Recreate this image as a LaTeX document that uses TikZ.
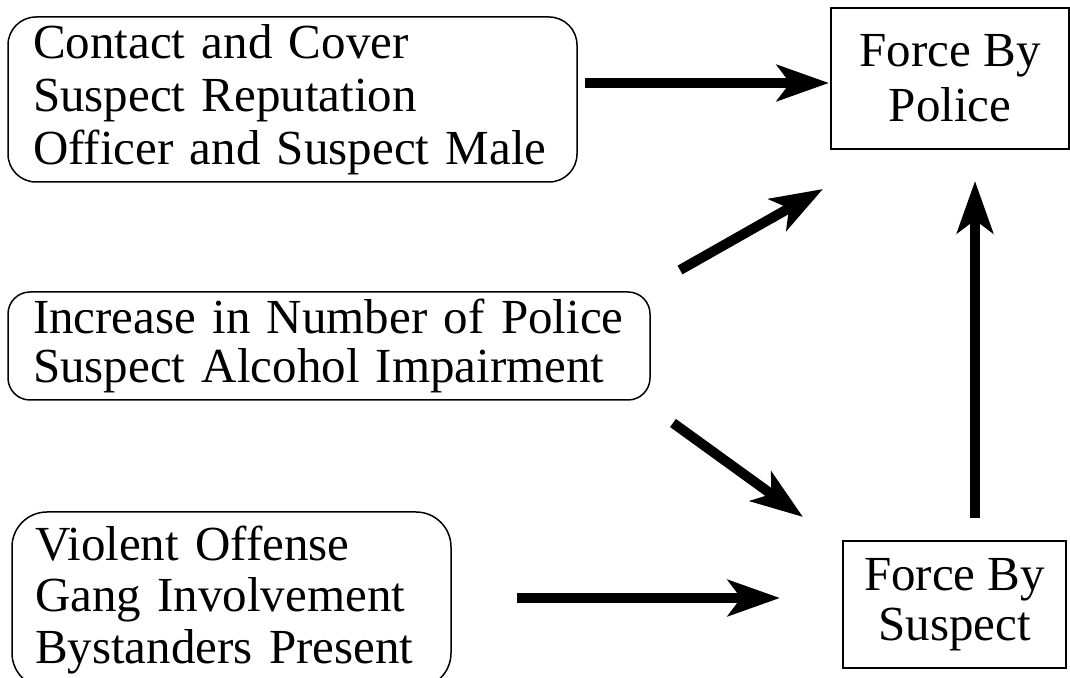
\documentclass[tikz,border=0pt]{standalone}
\usepackage{fontspec}
\setmainfont{Liberation Serif}
\usetikzlibrary{arrows.meta}
\begin{document}
\begin{tikzpicture}[x=1pt,y=1pt,
  rbox/.style={draw, line width=1.5pt, inner ysep=0pt, align=left},
  sbox/.style={draw, line width=1.5pt, inner sep=0pt, align=center},
  arr/.style={line width=10pt, -{Stealth[length=52pt,width=36pt,inset=13pt]}}]
\useasboundingbox (0,0) rectangle (1070,677);
\node[rbox, rounded corners=28pt, inner xsep=25pt, text width=519pt, minimum height=165pt,
  font=\fontsize{49}{53}\selectfont] (b1) at (292.5,577.5)
  {Contact and Cover\\Suspect Reputation\\Officer and Suspect Male};
\node[rbox, rounded corners=22pt, inner xsep=25pt, text width=592pt, minimum height=108pt,
  font=\fontsize{49}{49}\selectfont] (b2) at (329,331)
  {Increase in Number of Police\\Suspect Alcohol Impairment};
\node[rbox, rounded corners=35pt, inner xsep=23pt, text width=393pt, minimum height=176pt,
  font=\fontsize{49}{51.5}\selectfont] (b3) at (231.5,77)
  {Violent Offense\\Gang Involvement\\Bystanders Present};
\node[sbox, minimum width=238pt, minimum height=141pt,
  font=\fontsize{49}{55}\selectfont] (p) at (950,598.5) {Force By\\Police};
\node[sbox, minimum width=223pt, minimum height=127pt,
  font=\fontsize{49}{50}\selectfont] (s) at (954.5,72.5) {Force By\\Suspect};
\coordinate (a1s) at (585,594);  \coordinate (a1e) at (829,594);
\coordinate (a2s) at (680,407);  \coordinate (a2e) at (823,488);
\coordinate (a3s) at (975,159);  \coordinate (a3e) at (975,496);
\coordinate (a4s) at (673,254);  \coordinate (a4e) at (803,160);
\coordinate (a5s) at (517,79);   \coordinate (a5e) at (780,79);
\draw[arr] (a1s) -- (a1e);
\draw[arr] (a2s) -- (a2e);
\draw[arr] (a3s) -- (a3e);
\draw[arr] (a4s) -- (a4e);
\draw[arr] (a5s) -- (a5e);
\end{tikzpicture}
\end{document}
